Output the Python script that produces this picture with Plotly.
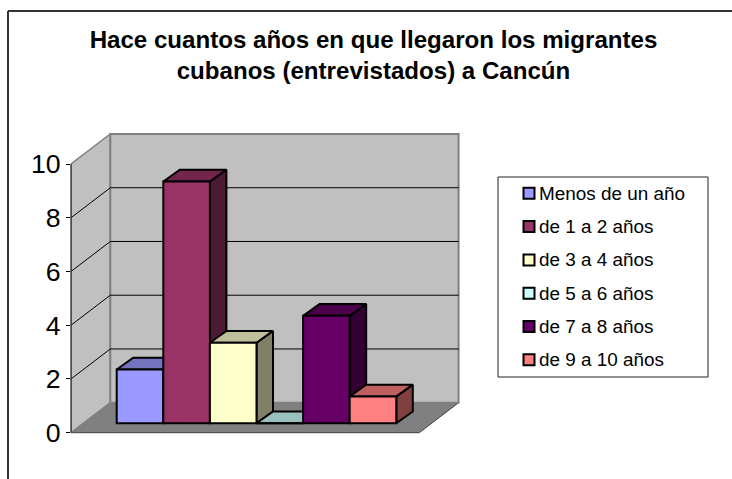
import plotly.graph_objects as go

# ---- data -------------------------------------------------------------
categories = ["Menos de un año", "de 1 a 2 años", "de 3 a 4 años",
              "de 5 a 6 años", "de 7 a 8 años", "de 9 a 10 años"]
values = [2, 9, 3, 0, 4, 1]
colors = ["#9999FF", "#993366", "#FFFFCC", "#CCFFFF", "#660066", "#FF8080"]
y_ticks = [0, 2, 4, 6, 8, 10]
title = "Hace cuantos años en que llegaron los migrantes<br>cubanos (entrevistados) a Cancún"

# ---- geometry (pixels of the 732x479 page) ------------------------------
W, H = 732, 479
PX_L, PX_R, PX_T, PX_B = 71.0, 463.0, 130.0, 437.0   # plot area
Y0_PX = 432.7
UNIT_Y = 26.87      # px per value
UNIT_X = 46.6       # px per category
X1_PX = 140.0       # px centre of the first column
FRONT_R_PX = 419.3
WALL_DX, WALL_DY = 39.3 / UNIT_X, 30.0 / UNIT_Y
BAR_DX, BAR_DY = 16.5 / UNIT_X, 11.8 / UNIT_Y
BAR_BASE = (Y0_PX - 423.3) / UNIT_Y

x_range = [1 + (PX_L - X1_PX) / UNIT_X, 1 + (PX_R - X1_PX) / UNIT_X]
y_range = [(Y0_PX - PX_B) / UNIT_Y, (Y0_PX - PX_T) / UNIT_Y]
XL = x_range[0]
XR = 1 + (FRONT_R_PX - X1_PX) / UNIT_X
Y_MAX = max(y_ticks)


def shade(hex_color, k):
    r, g, b = (int(hex_color[i:i + 2], 16) for i in (1, 3, 5))
    return "#%02X%02X%02X" % (round(r * k), round(g * k), round(b * k))


def path(pts):
    return "M " + " L ".join(f"{a:.4f} {b:.4f}" for a, b in pts) + " Z"


def pap_x(px):
    return (px - PX_L) / (PX_R - PX_L)


def pap_y(py):
    return (PX_B - py) / (PX_B - PX_T)


shapes = []
GRAY = "#808080"
# floor, side wall, back wall
shapes.append(dict(type="path", layer="below", xref="x", yref="y", fillcolor=GRAY,
                   line=dict(color="#404040", width=1),
                   path=path([(XL, 0), (XR, 0), (XR + WALL_DX, WALL_DY), (XL + WALL_DX, WALL_DY)])))
shapes.append(dict(type="path", layer="below", xref="x", yref="y", fillcolor="#C0C0C0",
                   line=dict(color=GRAY, width=1.5),
                   path=path([(XL, 0), (XL + WALL_DX, WALL_DY), (XL + WALL_DX, WALL_DY + Y_MAX), (XL, Y_MAX)])))
shapes.append(dict(type="path", layer="below", xref="x", yref="y", fillcolor="#C0C0C0",
                   line=dict(color=GRAY, width=2),
                   path=path([(XL + WALL_DX, WALL_DY), (XR + WALL_DX, WALL_DY),
                              (XR + WALL_DX, WALL_DY + Y_MAX), (XL + WALL_DX, WALL_DY + Y_MAX)])))
# gridlines on both walls
for t in y_ticks[1:-1]:
    shapes.append(dict(type="line", layer="below", xref="x", yref="y", line=dict(color="#000000", width=1),
                       x0=XL, y0=t, x1=XL + WALL_DX, y1=t + WALL_DY))
    shapes.append(dict(type="line", layer="below", xref="x", yref="y", line=dict(color="#000000", width=1),
                       x0=XL + WALL_DX, y0=t + WALL_DY, x1=XR + WALL_DX, y1=t + WALL_DY))
# value axis line
shapes.append(dict(type="line", xref="paper", yref="y", line=dict(color="#202020", width=1.2),
                   x0=0, x1=0, y0=0, y1=Y_MAX))
# chart frame (top and left only, the page crops the rest)
shapes.append(dict(type="line", xref="paper", yref="paper", line=dict(color="#333333", width=2),
                   x0=pap_x(8), y0=pap_y(11), x1=pap_x(W), y1=pap_y(11)))
shapes.append(dict(type="line", xref="paper", yref="paper", line=dict(color="#333333", width=2),
                   x0=pap_x(8), y0=pap_y(11), x1=pap_x(8), y1=pap_y(H)))
# legend box
shapes.append(dict(type="rect", xref="paper", yref="paper", line=dict(color="#222222", width=1),
                   fillcolor="#FFFFFF", x0=pap_x(498), x1=pap_x(708), y0=pap_y(377), y1=pap_y(177)))

annotations = []
for i, (name, col) in enumerate(zip(categories, colors)):
    cy = 193.3 + i * 33.3
    shapes.append(dict(type="rect", xref="paper", yref="paper", line=dict(color="#000000", width=2),
                       fillcolor=col, x0=pap_x(523.5), x1=pap_x(534.5), y0=pap_y(cy + 5.5), y1=pap_y(cy - 5.5)))
    annotations.append(dict(text=name, xref="paper", yref="paper", x=pap_x(537), y=pap_y(cy),
                            xanchor="left", yanchor="middle", showarrow=False, align="left",
                            font=dict(family="Liberation Sans, Arial, sans-serif", size=18.9, color="#000000")))

fig = go.Figure()
LINE = dict(color="#000000", width=2)
for i, (name, v, col) in enumerate(zip(categories, values, colors)):
    x0, x1 = i + 0.5, i + 1.5
    top = BAR_BASE + v
    # right side face
    fig.add_trace(go.Scatter(
        x=[x1, x1 + BAR_DX, x1 + BAR_DX, x1, x1],
        y=[BAR_BASE, BAR_BASE + BAR_DY, top + BAR_DY, top, BAR_BASE],
        mode="lines", fill="toself", fillcolor=shade(col, 0.5), line=LINE,
        hoverinfo="skip", showlegend=False, zorder=2 * i))
    # top face
    fig.add_trace(go.Scatter(
        x=[x0, x1, x1 + BAR_DX, x0 + BAR_DX, x0],
        y=[top, top, top + BAR_DY, top + BAR_DY, top],
        mode="lines", fill="toself", fillcolor=shade(col, 0.75), line=LINE,
        hoverinfo="skip", showlegend=False, zorder=2 * i))
    # front face
    fig.add_trace(go.Bar(
        x=[i + 1], y=[v], base=BAR_BASE, width=1, name=name,
        marker=dict(color=col, line=LINE), showlegend=False, zorder=2 * i + 1))

fig.update_layout(
    width=W, height=H, autosize=False,
    margin=dict(l=PX_L, r=W - PX_R, t=PX_T, b=H - PX_B, pad=0),
    paper_bgcolor="#FFFFFF", plot_bgcolor="rgba(0,0,0,0)",
    barmode="overlay", showlegend=False,
    font=dict(family="Liberation Sans, Arial, sans-serif", color="#000000"),
    title=dict(text=title, x=373.5 / W, xanchor="center", xref="container",
               y=1 - 48 / H, yanchor="top", yref="container",
               font=dict(family="Liberation Sans, Arial, sans-serif", size=24.1, color="#000000", weight="bold")),
    xaxis=dict(range=x_range, visible=False, fixedrange=True),
    yaxis=dict(range=y_range, tickvals=y_ticks, ticks="outside", ticklen=4, tickwidth=1, tickcolor="#000000",
               showgrid=False, zeroline=False, showline=False, fixedrange=True,
               tickfont=dict(size=26.67, color="#000000")),
    shapes=shapes, annotations=annotations,
)
fig.write_html("out.html", config=dict(displayModeBar=False),
               post_script="document.body.style.margin='0';document.body.style.overflow='hidden';")
